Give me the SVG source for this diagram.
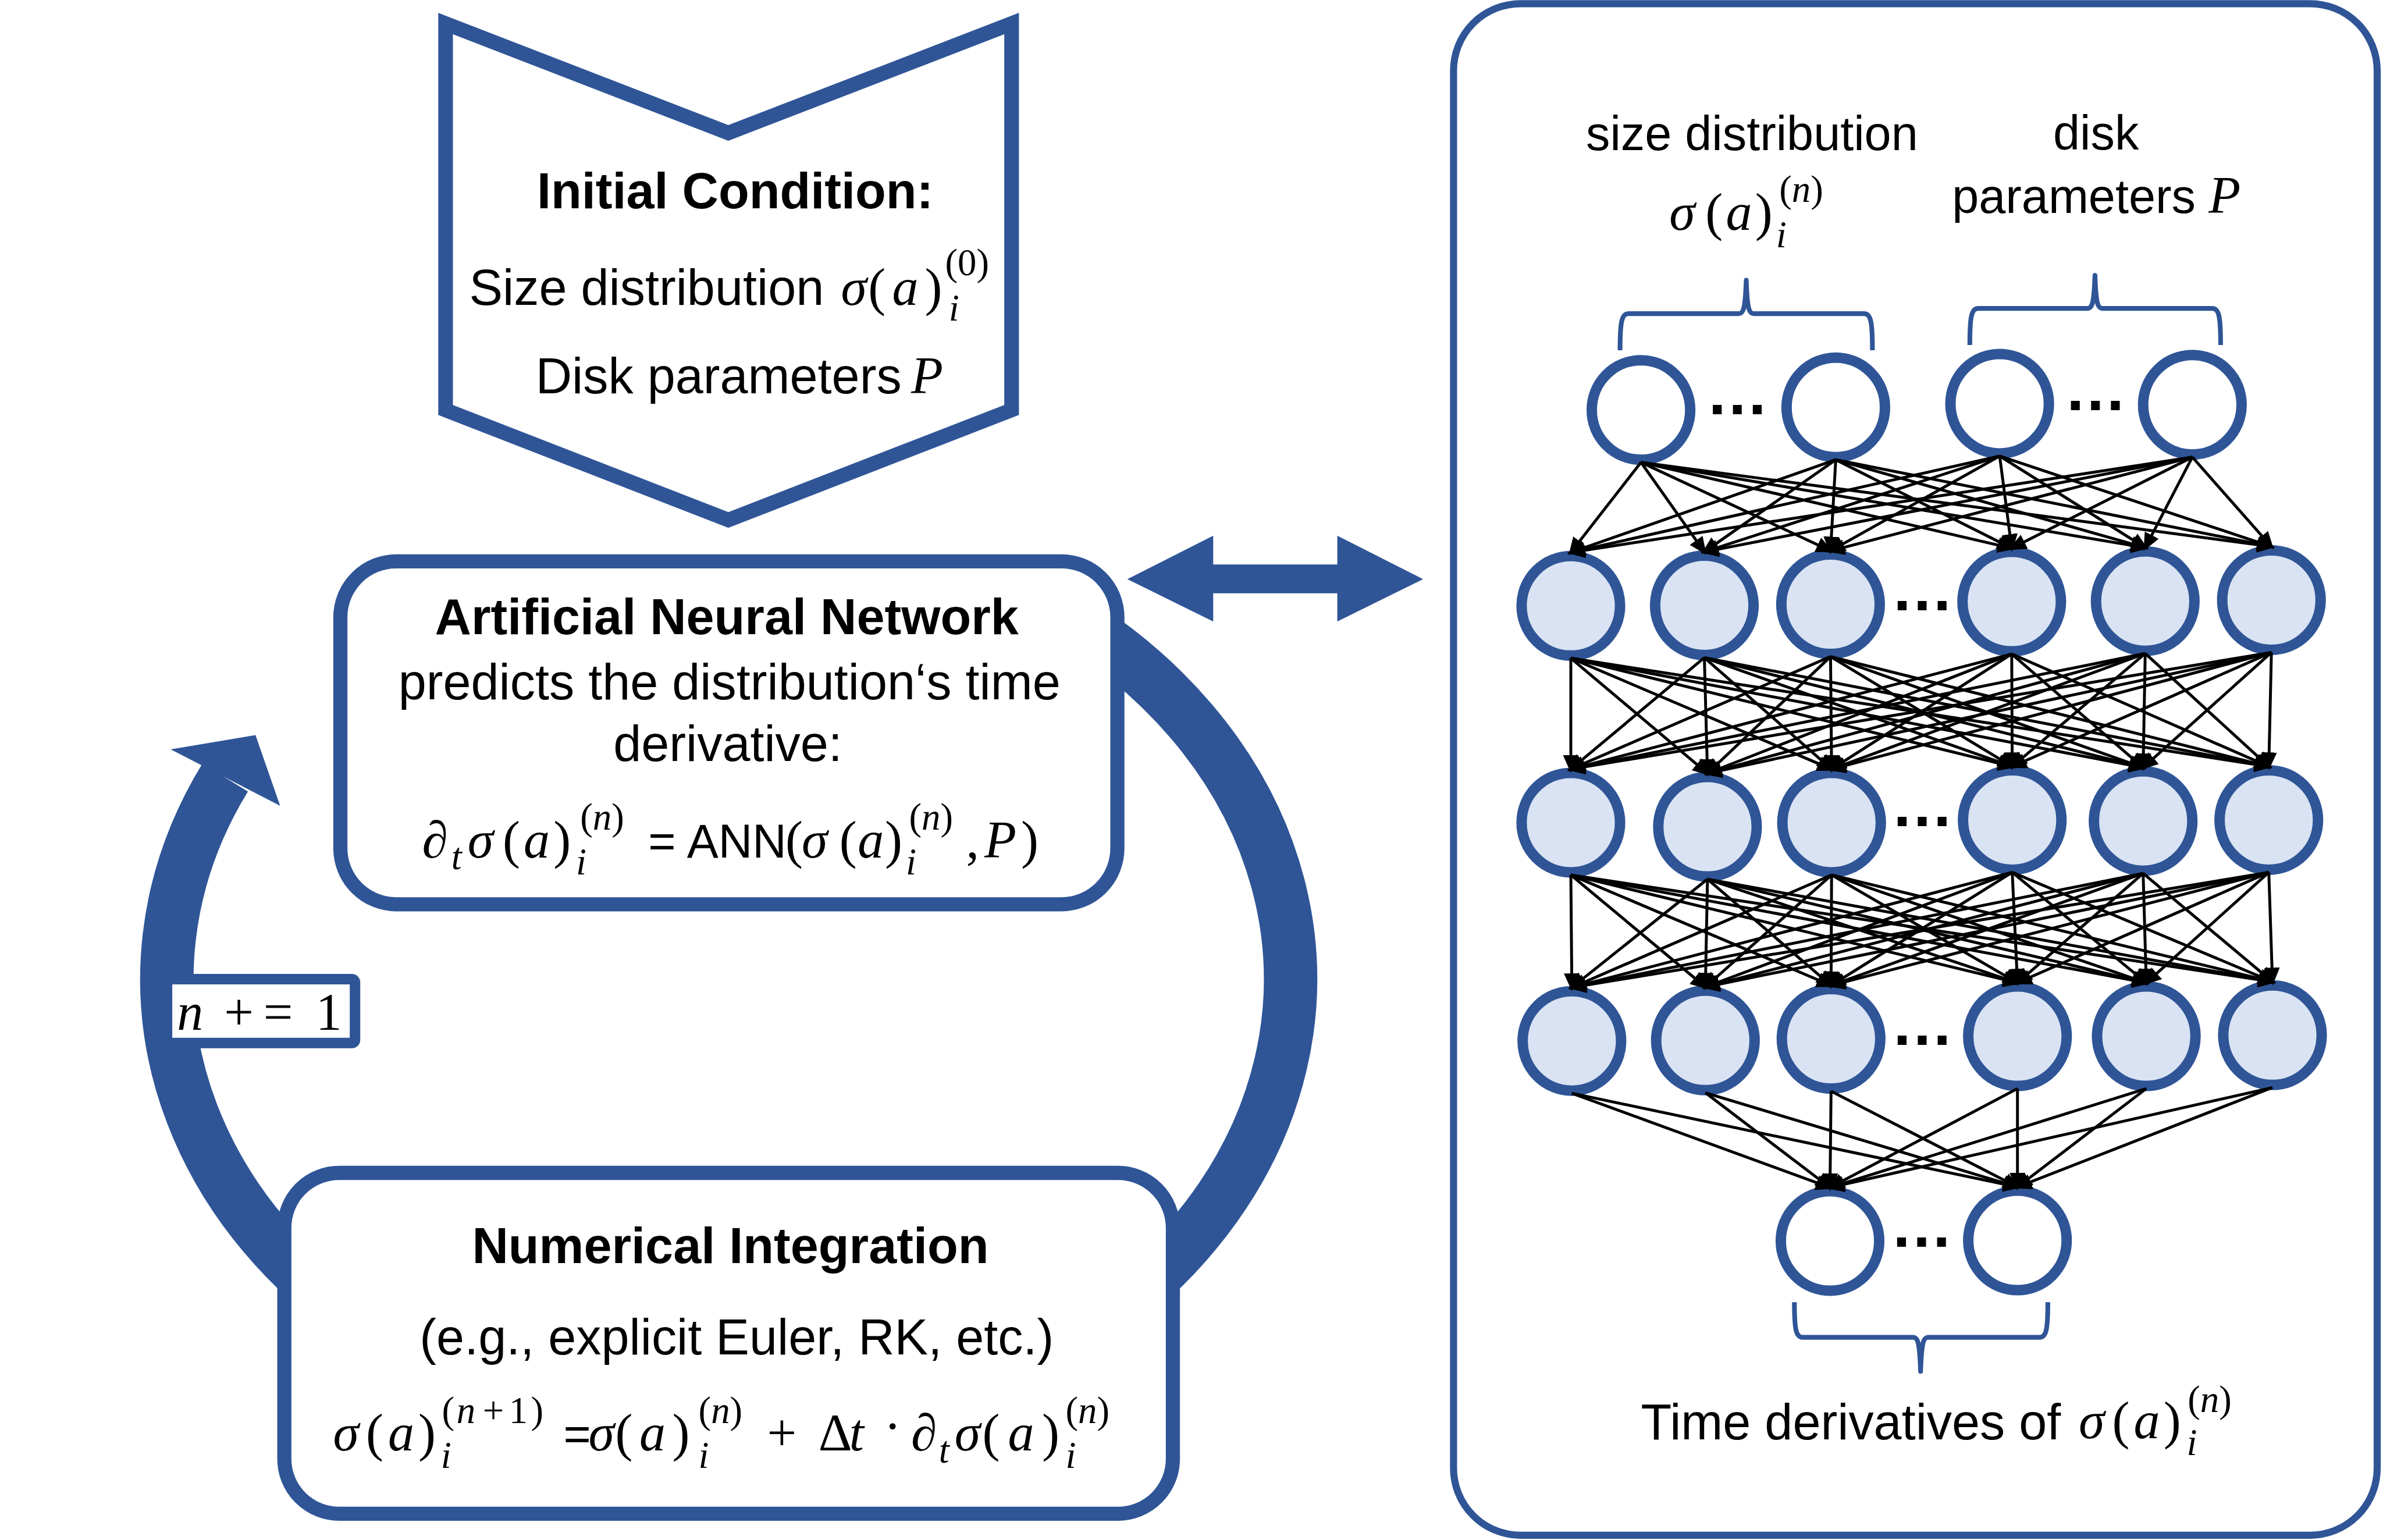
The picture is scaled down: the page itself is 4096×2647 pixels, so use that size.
<svg xmlns="http://www.w3.org/2000/svg" width="4096" height="2647" viewBox="0 0 4096 2647">
<defs>
<style>
.box{fill:#fff;stroke:#2F5597;stroke-width:27}
.node{stroke:#2F5597;stroke-width:20}
.in{fill:#fff}
.hid{fill:#DAE3F3}
.br{fill:none;stroke:#2F5597;stroke-width:9;stroke-linejoin:round}
.c line{stroke:#000;stroke-width:5.5;marker-end:url(#ah)}
text{font-family:"Liberation Sans",Arial,sans-serif;font-size:96px;fill:#000}
.b{font-weight:bold}
.m{font-family:"Liberation Serif","Times New Roman",serif;font-size:100px;font-style:italic}
.u{font-style:normal}
.s{font-size:72px}
.sm{font-size:92px}
.dots{font-size:120px;font-weight:bold}
</style>
<marker id="ah" viewBox="0 0 34 30" refX="27" refY="15" markerWidth="34" markerHeight="30" markerUnits="userSpaceOnUse" orient="auto"><path d="M0,0 L34,15 L0,30 z" fill="#000"/></marker>
</defs>
<rect width="4096" height="2647" fill="#fff"/>
<g transform="scale(0.9)">

<g id="loop">
<path d="M2000 1155 A1073 868 0 1 1 430 1485" fill="none" stroke="#2F5597" stroke-width="102"/>
<polygon points="326,1431 488,1404 535,1539" fill="#2F5597"/>
</g>

<g id="initial">
<polygon points="851,45 1391,254 1932,45 1932,783 1391,993 851,783" fill="#fff" stroke="#2F5597" stroke-width="28"/>
<text class="b" x="1404" y="398" text-anchor="middle">Initial Condition:</text>
<text y="582"><tspan x="896" y="582">Size distribution</tspan><tspan class="m" x="1606" y="582">σ</tspan><tspan class="m u" x="1658" y="582">(</tspan><tspan class="m" x="1704" y="582">a</tspan><tspan class="m u" x="1766" y="582">)</tspan><tspan class="m s" x="1812" y="612">i</tspan><tspan class="m u s" x="1805" y="526">(0)</tspan></text>
<text y="751"><tspan x="1023" y="751">Disk parameters</tspan><tspan class="m" x="1740" y="751">P</tspan></text>
</g>

<g id="ann">
<rect class="box" x="650" y="1072" width="1484" height="655" rx="107"/>
<text class="b" x="1388" y="1211" text-anchor="middle">Artificial Neural Network</text>
<text x="1393" y="1335" text-anchor="middle">predicts the distribution‘s time</text>
<text x="1390" y="1453" text-anchor="middle">derivative:</text>
<text y="1638"><tspan class="m" x="806" y="1638">∂</tspan><tspan class="m s" x="862" y="1660">t</tspan><tspan class="m" x="893" y="1638">σ</tspan><tspan class="m u" x="960" y="1638">(</tspan><tspan class="m" x="1000" y="1638">a</tspan><tspan class="m u" x="1057" y="1638">)</tspan><tspan class="m s" x="1100" y="1670">i</tspan><tspan class="m s" x="1108" y="1584"><tspan class="u">(</tspan>n<tspan class="u">)</tspan></tspan><tspan x="1238" y="1638" font-size="90">=</tspan><tspan x="1312" y="1638" font-size="90">ANN</tspan><tspan class="m u" x="1500" y="1638">(</tspan><tspan class="m" x="1531" y="1638">σ</tspan><tspan class="m u" x="1603" y="1638">(</tspan><tspan class="m" x="1638" y="1638">a</tspan><tspan class="m u" x="1690" y="1638">)</tspan><tspan class="m s" x="1730" y="1670">i</tspan><tspan class="m s" x="1736" y="1584"><tspan class="u">(</tspan>n<tspan class="u">)</tspan></tspan><tspan class="m u" x="1845" y="1638">,</tspan><tspan class="m" x="1880" y="1638">P</tspan><tspan class="m u" x="1950" y="1638">)</tspan></text>
</g>

<g id="numint">
<rect class="box" x="543" y="2240" width="1697" height="651" rx="105"/>
<text class="b" x="1395" y="2412" text-anchor="middle">Numerical Integration</text>
<text x="1407" y="2587" text-anchor="middle">(e.g., explicit Euler, RK, etc.)</text>
<text y="2770"><tspan class="m" x="636" y="2770">σ</tspan><tspan class="m u" x="699" y="2770">(</tspan><tspan class="m" x="741" y="2770">a</tspan><tspan class="m u" x="799" y="2770">)</tspan><tspan class="m s" x="842" y="2803">i</tspan><tspan class="m u s" x="844" y="2718">(</tspan><tspan class="m s" x="872" y="2718">n</tspan><tspan class="m u s" x="922" y="2718">+</tspan><tspan class="m u s" x="972" y="2718">1</tspan><tspan class="m u s" x="1014" y="2718">)</tspan><tspan x="1076" y="2770" font-size="90">=</tspan><tspan class="m" x="1124" y="2770">σ</tspan><tspan class="m u" x="1175" y="2770">(</tspan><tspan class="m" x="1221" y="2770">a</tspan><tspan class="m u" x="1284" y="2770">)</tspan><tspan class="m s" x="1334" y="2803">i</tspan><tspan class="m s" x="1334" y="2718"><tspan class="u">(</tspan>n<tspan class="u">)</tspan></tspan><tspan class="m u" x="1465" y="2770">+</tspan><tspan class="m u" x="1563" y="2770">Δ</tspan><tspan class="m" x="1622" y="2770">t</tspan><tspan class="m u" x="1688" y="2758">·</tspan><tspan class="m" x="1740" y="2770">∂</tspan><tspan class="m s" x="1793" y="2793">t</tspan><tspan class="m" x="1823" y="2770">σ</tspan><tspan class="m u" x="1876" y="2770">(</tspan><tspan class="m" x="1925" y="2770">a</tspan><tspan class="m u" x="1990" y="2770">)</tspan><tspan class="m s" x="2035" y="2803">i</tspan><tspan class="m s" x="2035" y="2718"><tspan class="u">(</tspan>n<tspan class="u">)</tspan></tspan></text>
</g>

<g id="increment">
<rect x="319" y="1870" width="359" height="122" rx="6" fill="#fff" stroke="#2F5597" stroke-width="20"/>
<text class="m" y="1967"><tspan x="338" y="1967">n</tspan><tspan class="u" x="428" y="1967">+</tspan><tspan class="u" x="503" y="1967">=</tspan><tspan class="u" x="603" y="1967">1</tspan></text>
</g>

<g id="double-arrow">
<polygon points="2153,1106 2317,1023 2317,1078 2554,1078 2554,1023 2718,1106 2554,1187 2554,1133 2317,1133 2317,1187" fill="#2F5597"/>
</g>

<g id="panel">
<rect x="2776" y="7" width="1764" height="2925" rx="128" fill="#fff" stroke="#2F5597" stroke-width="13.5"/>
<text class="sm" x="3346" y="287" text-anchor="middle">size distribution</text>
<text y="439"><tspan class="m" x="3188" y="439">σ</tspan><tspan class="m u" x="3257" y="439">(</tspan><tspan class="m" x="3296" y="439">a</tspan><tspan class="m u" x="3352" y="439">)</tspan><tspan class="m s" x="3392" y="472">i</tspan><tspan class="m s" x="3398" y="386"><tspan class="u">(</tspan>n<tspan class="u">)</tspan></tspan></text>
<text class="sm" x="4003" y="285" text-anchor="middle">disk</text>
<text y="407"><tspan class="sm" x="3728" y="407">parameters</tspan><tspan class="m" x="4218" y="407">P</tspan></text>
<path class="br" d="M3094 669 C3094 615 3097 599 3110 599 L3320 599 C3330 599 3333 590 3335 535 C3337 590 3340 599 3350 599 L3560 599 C3573 599 3576 615 3576 669"/>
<path class="br" d="M3762 659 C3762 605 3765 589 3778 589 L3986 589 C3996 589 3999 580 4001 526 C4003 580 4006 589 4016 589 L4225 589 C4238 589 4241 605 4241 659"/>
<path class="br" d="M3427 2487 C3427 2540 3430 2554 3443 2554 L3653 2554 C3663 2554 3666 2563 3668 2619 C3670 2563 3673 2554 3683 2554 L3895 2554 C3908 2554 3911 2540 3911 2487"/>
<text x="3134" y="2749">Time derivatives of</text>
<text y="2747"><tspan class="m" x="3970" y="2747">σ</tspan><tspan class="m u" x="4034" y="2747">(</tspan><tspan class="m" x="4075" y="2747">a</tspan><tspan class="m u" x="4132" y="2747">)</tspan><tspan class="m s" x="4176" y="2779">i</tspan><tspan class="m s" x="4178" y="2697"><tspan class="u">(</tspan>n<tspan class="u">)</tspan></tspan></text>
</g>

<g id="nodes">
<ellipse id="in1" class="node in" cx="3134" cy="783" rx="94" ry="95"/>
<ellipse id="in2" class="node in" cx="3506" cy="778" rx="94" ry="95"/>
<ellipse id="in3" class="node in" cx="3819" cy="771" rx="94" ry="95"/>
<ellipse id="in4" class="node in" cx="4187" cy="773" rx="94" ry="95"/>
<ellipse id="h11" class="node hid" cx="3000" cy="1157" rx="94" ry="95"/>
<ellipse id="h12" class="node hid" cx="3255" cy="1156" rx="94" ry="95"/>
<ellipse id="h13" class="node hid" cx="3496" cy="1154" rx="94" ry="95"/>
<ellipse id="h14" class="node hid" cx="3842" cy="1149" rx="94" ry="95"/>
<ellipse id="h15" class="node hid" cx="4097" cy="1148" rx="94" ry="95"/>
<ellipse id="h16" class="node hid" cx="4338" cy="1146" rx="94" ry="95"/>
<ellipse id="h21" class="node hid" cx="3000" cy="1571" rx="94" ry="95"/>
<ellipse id="h22" class="node hid" cx="3261" cy="1579" rx="94" ry="95"/>
<ellipse id="h23" class="node hid" cx="3498" cy="1571" rx="94" ry="95"/>
<ellipse id="h24" class="node hid" cx="3843" cy="1566" rx="94" ry="95"/>
<ellipse id="h25" class="node hid" cx="4093" cy="1568" rx="94" ry="95"/>
<ellipse id="h26" class="node hid" cx="4333" cy="1566" rx="94" ry="95"/>
<ellipse id="h31" class="node hid" cx="3002" cy="1988" rx="94" ry="95"/>
<ellipse id="h32" class="node hid" cx="3257" cy="1987" rx="94" ry="95"/>
<ellipse id="h33" class="node hid" cx="3497" cy="1984" rx="94" ry="95"/>
<ellipse id="h34" class="node hid" cx="3853" cy="1979" rx="94" ry="95"/>
<ellipse id="h35" class="node hid" cx="4099" cy="1979" rx="94" ry="95"/>
<ellipse id="h36" class="node hid" cx="4340" cy="1977" rx="94" ry="95"/>
<ellipse id="out1" class="node in" cx="3495" cy="2370" rx="94" ry="95"/>
<ellipse id="out2" class="node in" cx="3853" cy="2369" rx="94" ry="95"/>
<text class="dots" x="3318" y="791" text-anchor="middle">…</text>
<text class="dots" x="4002" y="783" text-anchor="middle">…</text>
<text class="dots" x="3671" y="1165" text-anchor="middle">…</text>
<text class="dots" x="3671" y="1578" text-anchor="middle">…</text>
<text class="dots" x="3671" y="1995" text-anchor="middle">…</text>
<text class="dots" x="3670" y="2381" text-anchor="middle">…</text>
</g>

<g id="connectors" class="c">
<line x1="3134" y1="883" x2="3000" y2="1055"/><line x1="3134" y1="883" x2="3255" y2="1054"/><line x1="3134" y1="883" x2="3496" y2="1052"/><line x1="3134" y1="883" x2="3842" y2="1047"/><line x1="3134" y1="883" x2="4097" y2="1046"/><line x1="3134" y1="883" x2="4338" y2="1044"/>
<line x1="3506" y1="878" x2="3000" y2="1055"/><line x1="3506" y1="878" x2="3255" y2="1054"/><line x1="3506" y1="878" x2="3496" y2="1052"/><line x1="3506" y1="878" x2="3842" y2="1047"/><line x1="3506" y1="878" x2="4097" y2="1046"/><line x1="3506" y1="878" x2="4338" y2="1044"/>
<line x1="3819" y1="871" x2="3000" y2="1055"/><line x1="3819" y1="871" x2="3255" y2="1054"/><line x1="3819" y1="871" x2="3496" y2="1052"/><line x1="3819" y1="871" x2="3842" y2="1047"/><line x1="3819" y1="871" x2="4097" y2="1046"/><line x1="3819" y1="871" x2="4338" y2="1044"/>
<line x1="4187" y1="873" x2="3000" y2="1055"/><line x1="4187" y1="873" x2="3255" y2="1054"/><line x1="4187" y1="873" x2="3496" y2="1052"/><line x1="4187" y1="873" x2="3842" y2="1047"/><line x1="4187" y1="873" x2="4097" y2="1046"/><line x1="4187" y1="873" x2="4338" y2="1044"/>

<line x1="3000" y1="1257" x2="3000" y2="1469"/><line x1="3000" y1="1257" x2="3261" y2="1477"/><line x1="3000" y1="1257" x2="3498" y2="1469"/><line x1="3000" y1="1257" x2="3843" y2="1464"/><line x1="3000" y1="1257" x2="4093" y2="1466"/><line x1="3000" y1="1257" x2="4333" y2="1464"/>
<line x1="3255" y1="1256" x2="3000" y2="1469"/><line x1="3255" y1="1256" x2="3261" y2="1477"/><line x1="3255" y1="1256" x2="3498" y2="1469"/><line x1="3255" y1="1256" x2="3843" y2="1464"/><line x1="3255" y1="1256" x2="4093" y2="1466"/><line x1="3255" y1="1256" x2="4333" y2="1464"/>
<line x1="3496" y1="1254" x2="3000" y2="1469"/><line x1="3496" y1="1254" x2="3261" y2="1477"/><line x1="3496" y1="1254" x2="3498" y2="1469"/><line x1="3496" y1="1254" x2="3843" y2="1464"/><line x1="3496" y1="1254" x2="4093" y2="1466"/><line x1="3496" y1="1254" x2="4333" y2="1464"/>
<line x1="3842" y1="1249" x2="3000" y2="1469"/><line x1="3842" y1="1249" x2="3261" y2="1477"/><line x1="3842" y1="1249" x2="3498" y2="1469"/><line x1="3842" y1="1249" x2="3843" y2="1464"/><line x1="3842" y1="1249" x2="4093" y2="1466"/><line x1="3842" y1="1249" x2="4333" y2="1464"/>
<line x1="4097" y1="1248" x2="3000" y2="1469"/><line x1="4097" y1="1248" x2="3261" y2="1477"/><line x1="4097" y1="1248" x2="3498" y2="1469"/><line x1="4097" y1="1248" x2="3843" y2="1464"/><line x1="4097" y1="1248" x2="4093" y2="1466"/><line x1="4097" y1="1248" x2="4333" y2="1464"/>
<line x1="4338" y1="1246" x2="3000" y2="1469"/><line x1="4338" y1="1246" x2="3261" y2="1477"/><line x1="4338" y1="1246" x2="3498" y2="1469"/><line x1="4338" y1="1246" x2="3843" y2="1464"/><line x1="4338" y1="1246" x2="4093" y2="1466"/><line x1="4338" y1="1246" x2="4333" y2="1464"/>

<line x1="3000" y1="1671" x2="3002" y2="1886"/><line x1="3000" y1="1671" x2="3257" y2="1885"/><line x1="3000" y1="1671" x2="3497" y2="1882"/><line x1="3000" y1="1671" x2="3853" y2="1877"/><line x1="3000" y1="1671" x2="4099" y2="1877"/><line x1="3000" y1="1671" x2="4340" y2="1875"/>
<line x1="3261" y1="1679" x2="3002" y2="1886"/><line x1="3261" y1="1679" x2="3257" y2="1885"/><line x1="3261" y1="1679" x2="3497" y2="1882"/><line x1="3261" y1="1679" x2="3853" y2="1877"/><line x1="3261" y1="1679" x2="4099" y2="1877"/><line x1="3261" y1="1679" x2="4340" y2="1875"/>
<line x1="3498" y1="1671" x2="3002" y2="1886"/><line x1="3498" y1="1671" x2="3257" y2="1885"/><line x1="3498" y1="1671" x2="3497" y2="1882"/><line x1="3498" y1="1671" x2="3853" y2="1877"/><line x1="3498" y1="1671" x2="4099" y2="1877"/><line x1="3498" y1="1671" x2="4340" y2="1875"/>
<line x1="3843" y1="1666" x2="3002" y2="1886"/><line x1="3843" y1="1666" x2="3257" y2="1885"/><line x1="3843" y1="1666" x2="3497" y2="1882"/><line x1="3843" y1="1666" x2="3853" y2="1877"/><line x1="3843" y1="1666" x2="4099" y2="1877"/><line x1="3843" y1="1666" x2="4340" y2="1875"/>
<line x1="4093" y1="1668" x2="3002" y2="1886"/><line x1="4093" y1="1668" x2="3257" y2="1885"/><line x1="4093" y1="1668" x2="3497" y2="1882"/><line x1="4093" y1="1668" x2="3853" y2="1877"/><line x1="4093" y1="1668" x2="4099" y2="1877"/><line x1="4093" y1="1668" x2="4340" y2="1875"/>
<line x1="4333" y1="1666" x2="3002" y2="1886"/><line x1="4333" y1="1666" x2="3257" y2="1885"/><line x1="4333" y1="1666" x2="3497" y2="1882"/><line x1="4333" y1="1666" x2="3853" y2="1877"/><line x1="4333" y1="1666" x2="4099" y2="1877"/><line x1="4333" y1="1666" x2="4340" y2="1875"/>

<line x1="3002" y1="2088" x2="3495" y2="2268"/><line x1="3002" y1="2088" x2="3853" y2="2267"/>
<line x1="3257" y1="2087" x2="3495" y2="2268"/><line x1="3257" y1="2087" x2="3853" y2="2267"/>
<line x1="3497" y1="2084" x2="3495" y2="2268"/><line x1="3497" y1="2084" x2="3853" y2="2267"/>
<line x1="3853" y1="2079" x2="3495" y2="2268"/><line x1="3853" y1="2079" x2="3853" y2="2267"/>
<line x1="4099" y1="2079" x2="3495" y2="2268"/><line x1="4099" y1="2079" x2="3853" y2="2267"/>
<line x1="4340" y1="2077" x2="3495" y2="2268"/><line x1="4340" y1="2077" x2="3853" y2="2267"/>
</g>
</g>
</svg>
